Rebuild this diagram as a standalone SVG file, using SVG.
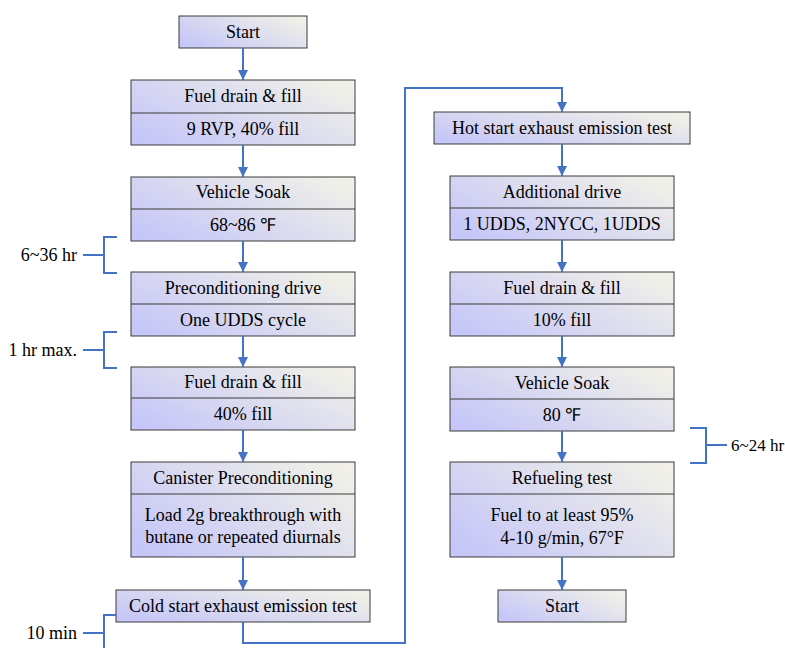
<svg xmlns="http://www.w3.org/2000/svg" width="785" height="648" viewBox="0 0 785 648">
<defs>
<linearGradient id="g" x1="0" y1="0.8" x2="1" y2="0.2">
<stop offset="0" stop-color="#c6c6f8"/>
<stop offset="1" stop-color="#f0f0e8"/>
</linearGradient>
<marker id="ah" viewBox="0 0 10 10" refX="10" refY="5" markerWidth="10" markerHeight="10" markerUnits="userSpaceOnUse" orient="auto">
<path d="M0,0 L10,5 L0,10 Z" fill="#4472c4"/>
</marker>
<style>
.b{fill:url(#g);stroke:#3a3a3a;stroke-width:1}
.d{stroke:#3a3a3a;stroke-width:1}
.t{font-family:'Liberation Serif','Times New Roman',serif;font-size:18px;fill:#000;text-anchor:middle}
.t .l{text-anchor:end}
.t .s{text-anchor:start}
.c{fill:none;stroke:#4472c4;stroke-width:2}
</style>
</defs>
<g class="t" font-family="Liberation Serif, Times New Roman, serif">
<g id="n1"><rect class="b" x="179" y="16" width="128" height="32"/><text x="243" y="38">Start</text></g>
<g id="n2"><rect class="b" x="131" y="80" width="224" height="65"/><line class="d" x1="131" y1="113" x2="355" y2="113"/><text x="243" y="102">Fuel drain &amp; fill</text><text x="243" y="135">9 RVP, 40% fill</text></g>
<g id="n3"><rect class="b" x="131" y="177" width="224" height="64"/><line class="d" x1="131" y1="209" x2="355" y2="209"/><text x="243" y="198">Vehicle Soak</text><text x="243" y="231">68~86 ℉</text></g>
<g id="n4"><rect class="b" x="131" y="272" width="224" height="64"/><line class="d" x1="131" y1="304" x2="355" y2="304"/><text x="243" y="294">Preconditioning drive</text><text x="243" y="326">One UDDS cycle</text></g>
<g id="n5"><rect class="b" x="131" y="367" width="224" height="63"/><line class="d" x1="131" y1="398" x2="355" y2="398"/><text x="243" y="388">Fuel drain &amp; fill</text><text x="243" y="420">40% fill</text></g>
<g id="n6"><rect class="b" x="131" y="462" width="224" height="95"/><line class="d" x1="131" y1="494" x2="355" y2="494"/><text x="243" y="484">Canister Preconditioning</text><text x="243" y="521">Load 2g breakthrough with</text><text x="243" y="543">butane or repeated diurnals</text></g>
<g id="n7"><rect class="b" x="116" y="590" width="254" height="32"/><text x="243" y="612">Cold start exhaust emission test</text></g>
<g id="n8"><rect class="b" x="434" y="112" width="256" height="32"/><text x="562" y="134">Hot start exhaust emission test</text></g>
<g id="n9"><rect class="b" x="450" y="176" width="224" height="64"/><line class="d" x1="450" y1="208" x2="674" y2="208"/><text x="562" y="198">Additional drive</text><text x="562" y="230">1 UDDS, 2NYCC, 1UDDS</text></g>
<g id="n10"><rect class="b" x="450" y="272" width="224" height="64"/><line class="d" x1="450" y1="304" x2="674" y2="304"/><text x="562" y="294">Fuel drain &amp; fill</text><text x="562" y="326">10% fill</text></g>
<g id="n11"><rect class="b" x="450" y="367" width="224" height="64"/><line class="d" x1="450" y1="399" x2="674" y2="399"/><text x="562" y="389">Vehicle Soak</text><text x="562" y="421">80 ℉</text></g>
<g id="n12"><rect class="b" x="450" y="462" width="224" height="95"/><line class="d" x1="450" y1="494" x2="674" y2="494"/><text x="562" y="484">Refueling test</text><text x="562" y="521">Fuel to at least 95%</text><text x="562" y="544">4-10 g/min, 67°F</text></g>
<g id="n13"><rect class="b" x="498" y="590" width="128" height="32"/><text x="562" y="612">Start</text></g>
<g id="connectors">
<line class="c" x1="243" y1="48" x2="243" y2="80" marker-end="url(#ah)"/>
<line class="c" x1="243" y1="145" x2="243" y2="177" marker-end="url(#ah)"/>
<line class="c" x1="243" y1="241" x2="243" y2="272" marker-end="url(#ah)"/>
<line class="c" x1="243" y1="336" x2="243" y2="367" marker-end="url(#ah)"/>
<line class="c" x1="243" y1="430" x2="243" y2="462" marker-end="url(#ah)"/>
<line class="c" x1="243" y1="557" x2="243" y2="590" marker-end="url(#ah)"/>
<polyline class="c" points="243,622 243,643 405,643 405,88 562,88 562,112" marker-end="url(#ah)"/>
<line class="c" x1="562" y1="144" x2="562" y2="176" marker-end="url(#ah)"/>
<line class="c" x1="562" y1="240" x2="562" y2="272" marker-end="url(#ah)"/>
<line class="c" x1="562" y1="336" x2="562" y2="367" marker-end="url(#ah)"/>
<line class="c" x1="562" y1="431" x2="562" y2="462" marker-end="url(#ah)"/>
<line class="c" x1="562" y1="557" x2="562" y2="590" marker-end="url(#ah)"/>
<polyline class="c" points="117,237 104,237 104,273 117,273"/>
<line class="c" x1="83" y1="255" x2="104" y2="255"/>
<polyline class="c" points="117,332 104,332 104,368 117,368"/>
<line class="c" x1="83" y1="350" x2="104" y2="350"/>
<polyline class="c" points="116,615 104,615 104,648"/>
<line class="c" x1="83" y1="633" x2="104" y2="633"/>
<polyline class="c" points="690,428 706,428 706,463 690,463"/>
<line class="c" x1="706" y1="445" x2="727" y2="445"/>
</g>
<text class="l" x="77" y="261">6~36 hr</text>
<text class="l" x="77" y="356">1 hr max.</text>
<text class="l" x="77" y="639">10 min</text>
<text class="s" x="731" y="451" font-size="17">6~24 hr</text>
</g>
</svg>
